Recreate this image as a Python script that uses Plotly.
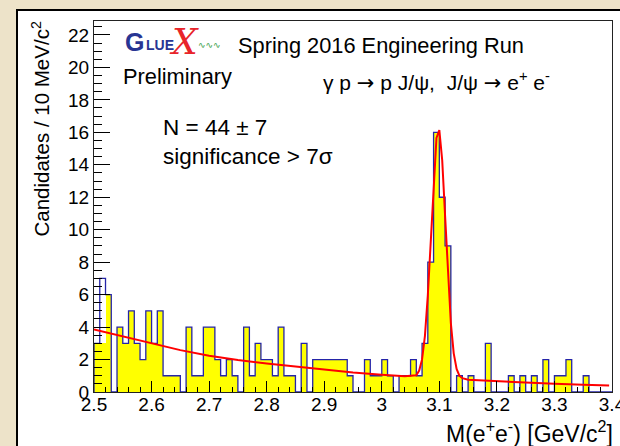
import plotly.graph_objects as go

# ---- data -------------------------------------------------------------
# e+e- invariant mass histogram, 10 MeV bins from 2.50 to 3.40 GeV
bin_low = 2.50
bin_width = 0.01
counts = [3, 7, 6, 0, 4, 3, 5, 3, 2, 5,
          3, 5, 1, 1, 1, 0, 4, 1, 1, 4,
          4, 2, 1, 2, 1, 0, 4, 1, 3, 2,
          2, 1, 4, 1, 1, 0, 3, 0, 2, 2,
          2, 2, 2, 2, 1, 0, 0, 2, 1, 1,
          2, 1, 0, 1, 1, 2, 1, 3, 8, 16,
          12, 9, 0, 1, 0, 1, 0, 0, 3, 0,
          0, 0, 1, 0, 1, 0, 1, 0, 2, 0,
          1, 1, 2, 0, 0, 1, 0, 0, 0, 0]
# level to which the yellow fill reaches where it stops below the outline
fill_override = {1: 3}

# fitted curve (exponential background + J/psi peak), sampled points
fit_mass = [2.50, 2.55, 2.60, 2.65, 2.70, 2.75, 2.80, 2.85, 2.90, 2.95,
            3.00, 3.04, 3.06, 3.065, 3.07, 3.075, 3.08, 3.085, 3.09, 3.095,
            3.10, 3.105, 3.11, 3.115, 3.12, 3.125, 3.13, 3.135, 3.14, 3.15,
            3.20, 3.25, 3.30, 3.35, 3.395]
fit_value = [3.85, 3.42, 2.98, 2.58, 2.24, 1.97, 1.76, 1.57, 1.37, 1.20,
             1.06, 0.97, 1.03, 1.32, 2.01, 3.46, 5.96, 9.39, 13.05, 15.66,
             16.14, 14.28, 10.86, 7.18, 4.25, 2.38, 1.42, 1.00, 0.85, 0.75,
             0.66, 0.58, 0.51, 0.45, 0.40]

x_ticks = [2.5, 2.6, 2.7, 2.8, 2.9, 3.0, 3.1, 3.2, 3.3, 3.4]
x_tick_labels = ["2.5", "2.6", "2.7", "2.8", "2.9", "3", "3.1", "3.2", "3.3", "3.4"]
y_ticks = [0, 2, 4, 6, 8, 10, 12, 14, 16, 18, 20, 22]

# ---- geometry ---------------------------------------------------------
W, H = 620, 446
M_L, M_R, M_T, M_B = 94, 8, 21, 54
PW, PH = W - M_L - M_R, H - M_T - M_B


def px(x):
    return (x - M_L) / PW


def py(y):
    return (H - M_B - y) / PH


FONT = "Liberation Sans, Arial, Helvetica, sans-serif"
ARROW = "<span style='font-family:DejaVu Sans'>→</span>"

# step outline built from the bin contents
edges = [bin_low + i * bin_width for i in range(len(counts) + 1)]
step_x = [edges[0]] + edges
step_y = [0] + counts + [0]
centers = [bin_low + (i + 0.5) * bin_width for i in range(len(counts))]
fill_counts = [fill_override.get(i, c) for i, c in enumerate(counts)]

fig = go.Figure()
fig.add_trace(go.Bar(x=centers, y=fill_counts, width=bin_width,
                     marker=dict(color="#ffff00", line=dict(width=0)),
                     hoverinfo="skip"))
fig.add_trace(go.Scatter(x=step_x, y=step_y, mode="lines", line_shape="hv",
                         line=dict(color="#2424a8", width=1.3),
                         hoverinfo="skip"))
fig.add_trace(go.Scatter(x=fit_mass, y=fit_value, mode="lines",
                         line=dict(color="#ff0000", width=2),
                         hoverinfo="skip"))

annotations = [
    dict(text="Candidates / 10 MeV/c<sup>2</sup>", textangle=-90,
         x=px(40), y=py(20), xanchor="center", yanchor="top",
         font=dict(size=20.5)),
    dict(text="M(e<sup>+</sup>e<sup>-</sup>) [GeV/c<sup>2</sup>]",
         x=px(615), y=py(432), xanchor="right", yanchor="middle",
         font=dict(size=23)),
    dict(text="Spring 2016 Engineering Run", x=px(236), y=py(45),
         xanchor="left", yanchor="middle", font=dict(size=21.8)),
    dict(text="Preliminary", x=px(121), y=py(77),
         xanchor="left", yanchor="middle", font=dict(size=21.8)),
    dict(text=f"γ p {ARROW} p J/ψ,  J/ψ {ARROW} e<sup>+</sup> e<sup>-</sup>",
         x=px(321), y=py(81), xanchor="left", yanchor="middle",
         font=dict(size=21)),
    dict(text="N = 44 ± 7", x=px(161), y=py(127),
         xanchor="left", yanchor="middle", font=dict(size=22.5)),
    dict(text="significance > 7σ", x=px(161), y=py(156),
         xanchor="left", yanchor="middle", font=dict(size=22.5)),
    # GlueX logo lettering
    dict(text="<b>G</b>", x=px(134), y=py(42), xanchor="center",
         yanchor="middle", font=dict(size=25, color="#283593")),
    dict(text="<b>LUE</b>", x=px(160), y=py(45), xanchor="center",
         yanchor="middle", font=dict(size=14, color="#283593")),
    dict(text="<i>X</i>", x=px(184), y=py(41), xanchor="center",
         yanchor="middle", font=dict(size=36, color="#e8242a",
                                     family="DejaVu Serif, serif")),
    dict(text="∿∿∿", x=px(209), y=py(45), xanchor="center",
         yanchor="middle", font=dict(size=9, color="#3aa04a",
                                     family="DejaVu Sans")),
]
for a in annotations:
    a.update(xref="paper", yref="paper", showarrow=False)

shapes = [
    # white canvas with its black frame
    dict(type="rect", xref="paper", yref="paper", layer="below",
         x0=px(17), x1=px(640), y0=py(470), y1=py(10),
         fillcolor="white", line=dict(color="black", width=2)),
]

fig.update_layout(
    width=W, height=H,
    margin=dict(l=M_L, r=M_R, t=M_T, b=M_B, pad=0, autoexpand=False),
    paper_bgcolor="#ede3c9", plot_bgcolor="white",
    font=dict(family=FONT, color="black"),
    showlegend=False, bargap=0,
    annotations=annotations, shapes=shapes,
)
fig.update_xaxes(
    range=[2.5, 3.4], tickvals=x_ticks, ticktext=x_tick_labels,
    ticks="inside", ticklen=11, tickwidth=1, tickcolor="black",
    minor=dict(dtick=0.02, tick0=2.5, ticks="inside", ticklen=5.5,
               tickcolor="black", tickwidth=1),
    showgrid=False, zeroline=False, showline=True, linecolor="#222",
    linewidth=1, mirror=True, tickfont=dict(size=19),
    ticklabeloverflow="allow", ticklabelstandoff=-5, automargin=False,
)
fig.update_yaxes(
    range=[0, 22.86], tickvals=y_ticks,
    ticks="inside", ticklen=15.5, tickwidth=1, tickcolor="black",
    minor=dict(dtick=0.5, tick0=0, ticks="inside", ticklen=8,
               tickcolor="black", tickwidth=1),
    showgrid=False, zeroline=False, showline=True, linecolor="#222",
    linewidth=1, mirror=True, tickfont=dict(size=19), automargin=False,
)

fig.write_html("out.html")
